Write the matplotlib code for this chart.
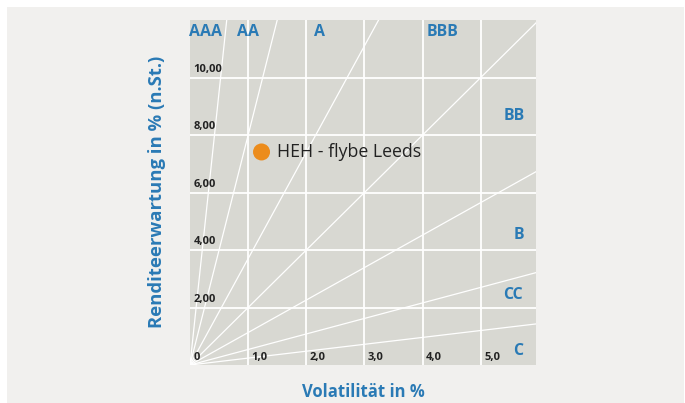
import matplotlib.pyplot as plt
from matplotlib.patches import Rectangle

plt.rcParams['font.family'] = ['Open Sans', 'DejaVu Sans']

# rating boundary lines through the origin (return / volatility)
slopes = [19.0, 8.0, 3.7, 2.0, 1.13, 0.54, 0.24]
ratings = ['AAA', 'AA', 'A', 'BBB', 'BB', 'B', 'CC', 'C']
rating_x = [0.26, 1.0, 2.23, 4.35, 5.58, 5.65, 5.55, 5.65]
rating_y = [11.57, 11.57, 11.57, 11.57, 8.67, 4.51, 2.45, 0.49]

x_ticks = [0, 1, 2, 3, 4, 5]
x_labels = ['0', '1,0', '2,0', '3,0', '4,0', '5,0']
y_ticks = [2, 4, 6, 8, 10]
y_labels = ['2,00', '4,00', '6,00', '8,00', '10,00']

point_name = 'HEH - flybe Leeds'
point_x = 1.23
point_y = 7.41

xmax = 5.95
ymax = 12.0
blue = '#2a7ab5'

fig = plt.figure(figsize=(6.85, 4.03), dpi=100)
fig.patch.set_facecolor('white')
fig.patches.append(Rectangle((7 / 685, 0), 677 / 685, 396 / 403,
                             transform=fig.transFigure,
                             facecolor='#f1f0ee', edgecolor='none', zorder=-1))

ax = fig.add_axes([190 / 685, 38 / 403, 346 / 685, 345 / 403])
ax.set_facecolor('#d8d8d2')
ax.set_xlim(0, xmax)
ax.set_ylim(0, ymax)
for s in ax.spines.values():
    s.set_visible(False)
ax.set_xticks([])
ax.set_yticks([])

# grid
for x in x_ticks[1:]:
    ax.axvline(x, color='white', lw=1.3, zorder=1)
for y in y_ticks:
    ax.axhline(y, color='white', lw=1.3, zorder=1)

# boundary lines
for s in slopes:
    xe = min(xmax, ymax / s)
    ax.plot([0, xe], [0, s * xe], color='white', lw=0.9, zorder=2)

# tick labels drawn inside the plot
for x, lab in zip(x_ticks, x_labels):
    ax.annotate(lab, (x, 0), xytext=(2.5, 5.5), textcoords='offset points',
                fontsize=8, fontweight='bold', color='#222222',
                ha='left', va='center')
for y, lab in zip(y_ticks, y_labels):
    ax.annotate(lab, (0, y), xytext=(2.5, 2), textcoords='offset points',
                fontsize=8, fontweight='bold', color='#222222',
                ha='left', va='bottom')

for lab, x, y in zip(ratings, rating_x, rating_y):
    ax.text(x, y, lab, fontsize=11.4, fontweight='bold', color=blue,
            ha='center', va='center', zorder=3)

ax.scatter([point_x], [point_y], s=150, color='#ec8c1c', zorder=4,
           edgecolors='none')
ax.annotate(point_name, (point_x, point_y), xytext=(11, 0),
            textcoords='offset points', fontsize=12.8, color='#222222',
            ha='left', va='center')

fig.text(363 / 685, 1 - 392 / 403, 'Volatilität in %', fontsize=12,
         fontweight='bold', color=blue, ha='center', va='center')
fig.text(157 / 685, 1 - 192 / 403, 'Renditeerwartung in % (n.St.)',
         fontsize=13.3, fontweight='bold', color=blue, ha='center',
         va='center', rotation=90)

fig.savefig('out.png', dpi=100, facecolor=fig.get_facecolor())
